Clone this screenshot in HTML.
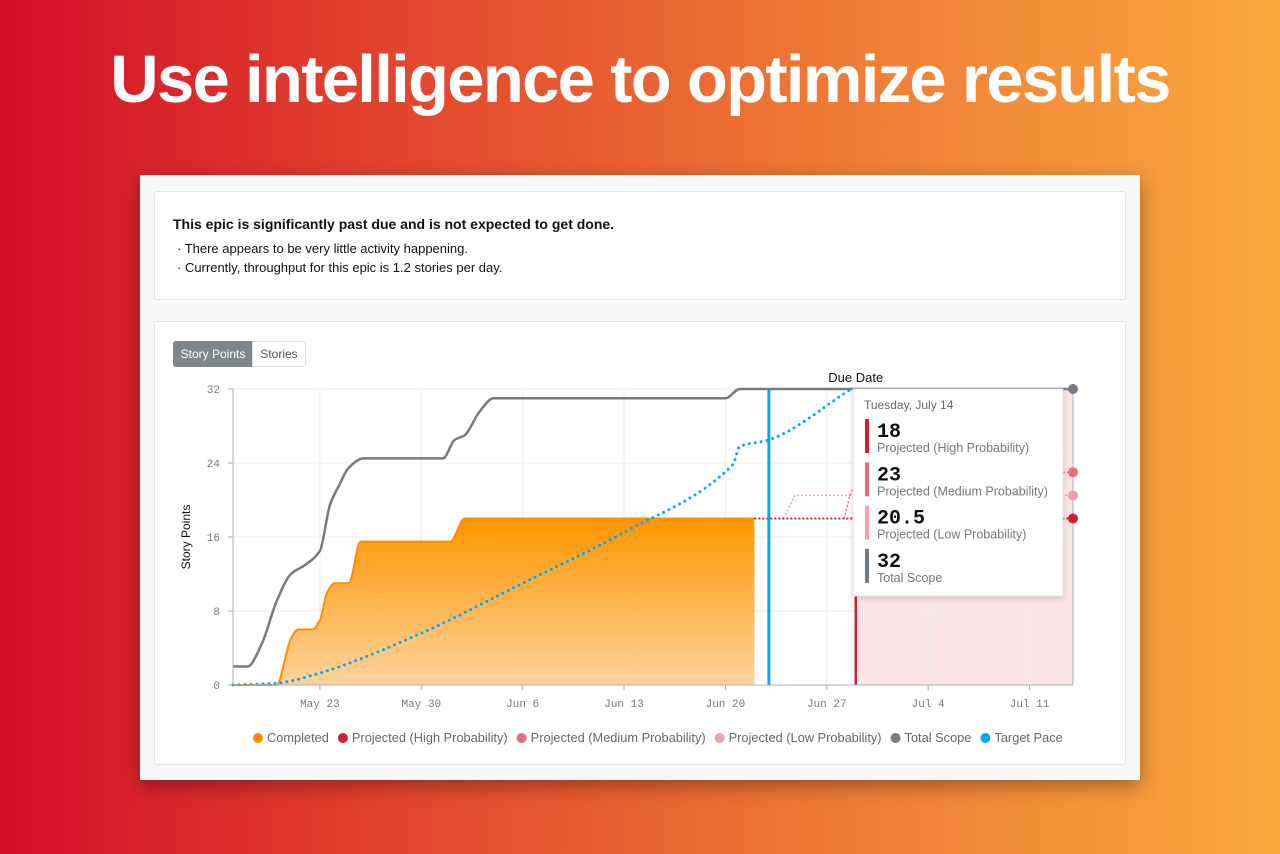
<!DOCTYPE html>
<html><head><meta charset="utf-8">
<style>
html,body{margin:0;padding:0;width:1280px;height:854px;overflow:hidden}
body{background:linear-gradient(90deg,#d40f29 0%,#e2432d 30%,#ee7a35 65%,#f9a83e 100%);font-family:"Liberation Sans",sans-serif;position:relative}
h1{position:absolute;left:0;top:41px;width:1280px;margin:0;text-align:center;color:#fff;font-size:67px;font-weight:bold;letter-spacing:-1.7px}
.panel{position:absolute;left:140px;top:175px;width:1000px;height:605px;background:#f7f8fa;box-shadow:0 6px 18px rgba(0,0,0,.35)}
.card{position:absolute;background:#fff;border:1px solid #e3e5e8;border-radius:3px}
.msg b{position:absolute;left:18px;top:24px;font-size:14px;color:#111}
.msg div{position:absolute;left:22px;font-size:13px;color:#111}
.tog{position:absolute;top:19px;height:24px;font-size:12px;line-height:24px;text-align:center;border:1px solid #dcdfe3}
svg{position:absolute;left:0;top:0}
</style></head><body>
<h1>Use intelligence to optimize results</h1>
<div class="panel">
 <div class="card msg" style="left:14px;top:16px;width:970px;height:107px">
  <b>This epic is significantly past due and is not expected to get done.</b>
  <div style="top:49px">· There appears to be very little activity happening.</div>
  <div style="top:68px">· Currently, throughput for this epic is 1.2 stories per day.</div>
 </div>
 <div class="card" style="left:14px;top:146px;width:970px;height:442px">
  <div class="tog" style="left:18px;width:78px;background:#7d858e;color:#fff;border-color:#7d858e;border-radius:3px 0 0 3px">Story Points</div>
  <div class="tog" style="left:97px;width:52px;background:#fff;color:#555;border-radius:0 3px 3px 0">Stories</div>
 </div>
</div>
<svg id="chart" width="1280" height="854"></svg>
<script>
const days=[0,1,2,3,4,5,6,6.7,7.3,8,9,14.5,15.3,16,17,18,34,35,58];
const scope=[2,2,4.5,9,12,13,14.5,19.5,21.5,23.5,24.5,24.5,26.5,27,29.5,31,31,32,32];
const compDays=[0,3,4,4.5,5.5,6,6.5,7,8,8.8,15,16,36];
const completed=[0,0,5,6,6,7,10,11,11,15.5,15.5,18,18];
const paceDays=[0,3,6,13,20,27,34.5,35,37,42.7];
const pace=[0,0.2,1.3,5.6,11,16.5,23.8,25.8,26.5,32];
const yTicks=[0,8,16,24,32];
const xTickDays=[6,13,20,27,34,41,48,55];
const xTickLabels=["May 23","May 30","Jun 6","Jun 13","Jun 20","Jun 27","Jul 4","Jul 11"];
const projEnd=[18,23,20.5];
const projColors=["#d21f2f","#e0707a","#eea2a9"];
const dueDay=43,targetDay=37,totalDays=58;
const legendNames=["Completed","Projected (High Probability)","Projected (Medium Probability)","Projected (Low Probability)","Total Scope","Target Pace"];
const legendColors=["#ff8c00","#d21f2f","#e0707a","#eea2a9","#737b84","#00aaf2"];

const X0=233,X1=1073,Y0=685,Y1=389;
const x=d=>X0+(X1-X0)*d/totalDays, y=v=>Y0-(Y0-Y1)*v/32;
const svg=document.getElementById('chart'),NS='http://www.w3.org/2000/svg';
function mk(t,a,p){const e=document.createElementNS(NS,t);for(const k in a)e.setAttribute(k,a[k]);(p||svg).appendChild(e);return e;}
function smooth(ds,vs){const n=ds.length,px=ds.map(x),py=vs.map(y),m=[],d=[];
 for(let i=0;i<n-1;i++)d.push((py[i+1]-py[i])/(px[i+1]-px[i]));
 for(let i=0;i<n;i++){if(i==0)m.push(d[0]);else if(i==n-1)m.push(d[n-2]);else m.push(d[i-1]*d[i]<=0?0:2/(1/d[i-1]+1/d[i]));}
 let p='M'+px[0]+','+py[0];
 for(let i=0;i<n-1;i++){const h=(px[i+1]-px[i])/3;p+=' C'+(px[i]+h)+','+(py[i]+m[i]*h)+' '+(px[i+1]-h)+','+(py[i+1]-m[i+1]*h)+' '+px[i+1]+','+py[i+1];}
 return p;}
const defs=mk('defs',{});
const g=mk('linearGradient',{id:'og',x1:0,y1:0,x2:0,y2:1},defs);
mk('stop',{offset:'0','stop-color':'#ff9500'},g);mk('stop',{offset:'1','stop-color':'#fdd39c'},g);
let e=mk('rect',{x:x(dueDay),y:Y1,width:X1-x(dueDay),height:Y0-Y1,fill:'#fbe4e6'});

yTicks.forEach(v=>{mk('line',{x1:X0,x2:X1,y1:y(v),y2:y(v),stroke:'#eeeeee'});
 const t=mk('text',{x:X0-13,y:y(v)+4,'text-anchor':'end','font-size':11,fill:'#777','font-family':'Liberation Mono,monospace'});t.textContent=v;
 
 mk('line',{x1:X0-5,x2:X0,y1:y(v),y2:y(v),stroke:'#aaa'});});
xTickDays.forEach((d,i)=>{mk('line',{x1:x(d),x2:x(d),y1:Y1,y2:Y0,stroke:'#eeeeee'});mk('line',{x1:x(d),x2:x(d),y1:Y0,y2:Y0+5,stroke:'#aaa'});
 const t=mk('text',{x:x(d),y:Y0+22,'text-anchor':'middle','font-size':11,fill:'#777','font-family':'Liberation Mono,monospace'});t.textContent=xTickLabels[i];
 });
const yt=mk('text',{x:190,y:537,'text-anchor':'middle','font-size':12,fill:'#111',transform:'rotate(-90 190 537)'});yt.textContent='Story Points';

const cp=smooth(compDays,completed);
e=mk('path',{d:cp+' L'+x(compDays[compDays.length-1])+','+Y0+' L'+X0+','+Y0+' Z',fill:'url(#og)'});

mk('path',{d:cp,fill:'none',stroke:'#ff8c00','stroke-width':2});
const cEnd=compDays[compDays.length-1],cVal=completed[completed.length-1];
mk('path',{d:'M'+x(cEnd+2)+','+y(cVal)+' L'+x(cEnd+2.8)+','+y(projEnd[2])+' L'+X1+','+y(projEnd[2]),fill:'none',stroke:projColors[2],'stroke-width':1.5,'stroke-dasharray':'2,2'});
mk('path',{d:'M'+x(cEnd+6.2)+','+y(cVal)+' L'+x(cEnd+6.6)+','+y(projEnd[2])+' L'+x(cEnd+7.3)+','+y(projEnd[1])+' L'+X1+','+y(projEnd[1]),fill:'none',stroke:projColors[1],'stroke-width':1.5,'stroke-dasharray':'2,2'});
e=mk('path',{d:'M'+x(cEnd)+','+y(cVal)+' L'+X1+','+y(projEnd[0]),fill:'none',stroke:projColors[0],'stroke-width':2,'stroke-dasharray':'2,2'});

mk('line',{x1:x(dueDay),x2:x(dueDay),y1:Y1,y2:Y0,stroke:'#d21f2f','stroke-width':2.5});
mk('line',{x1:x(targetDay),x2:x(targetDay),y1:Y1,y2:Y0,stroke:'#00aaf2','stroke-width':3});
const dd=mk('text',{x:x(dueDay),y:382,'text-anchor':'middle','font-size':13,fill:'#111'});dd.textContent='Due Date';

e=mk('path',{d:smooth(paceDays,pace),fill:'none',stroke:'#00aaf2','stroke-width':3,'stroke-dasharray':'0,6','stroke-linecap':'round'});

e=mk('path',{d:smooth(days,scope),fill:'none',stroke:'#737b84','stroke-width':2.5});

mk('line',{x1:X0,x2:X0,y1:Y1,y2:Y0,stroke:'#aab0b6'});mk('line',{x1:X0,x2:X1,y1:Y0,y2:Y0,stroke:'#aab0b6'});mk('line',{x1:X1,x2:X1,y1:Y1,y2:Y0,stroke:'#aab0b6'});
[[projEnd[1],projColors[1]],[projEnd[2],projColors[2]],[projEnd[0],projColors[0]],[scope[scope.length-1],'#737b84']].forEach(a=>{
 const c=mk('circle',{cx:X1,cy:y(a[0]),r:5,fill:a[1]});});
const tg=mk('g',{});
mk('rect',{x:853,y:389,width:210,height:207,fill:'#fff',stroke:'#e3e5e8',style:'filter:drop-shadow(0 2px 3px rgba(0,0,0,.15))'},tg);
let t=mk('text',{x:864,y:409,'font-size':12,fill:'#666'},tg);t.textContent='Tuesday, July 14';
const tv=[projEnd[0],projEnd[1],projEnd[2],scope[scope.length-1]],tl=['Projected (High Probability)','Projected (Medium Probability)','Projected (Low Probability)','Total Scope'],tc=[projColors[0],projColors[1],projColors[2],'#737b84'];
tv.forEach((v,i)=>{const by=419+i*43.3;mk('rect',{x:865,y:by,width:4,height:34,fill:tc[i]},tg);
 let a=mk('text',{x:877,y:by+18,'font-size':20,'font-weight':'bold',fill:'#111','font-family':'Liberation Mono,monospace'},tg);a.textContent=v;
 a=mk('text',{x:877,y:by+33,'font-size':12.5,fill:'#777'},tg);a.textContent=tl[i];});
let lx=253;legendNames.forEach((n,i)=>{const lg=mk('g',{});
 mk('circle',{cx:lx+5,cy:738,r:5,fill:legendColors[i]},lg);const tt=mk('text',{x:lx+14,y:742,'font-size':12.8,fill:'#666'},lg);tt.textContent=n;
 lx+=14+tt.getComputedTextLength()+9;});
</script>
</body></html>
